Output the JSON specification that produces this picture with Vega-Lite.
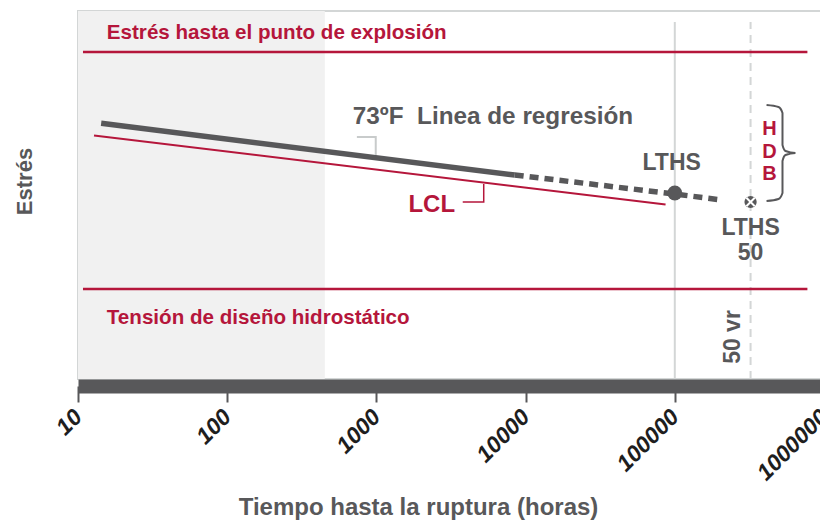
{
  "$schema": "https://vega.github.io/schema/vega-lite/v6.json",
  "width": 746,
  "height": 368,
  "autosize": {"type": "none"},
  "padding": {"left": 78, "top": 11, "right": 0, "bottom": 145},
  "background": "white",
  "config": {
    "view": {"stroke": "#d3d6d6", "strokeWidth": 2},
    "font": "Liberation Sans",
    "text": {"font": "Liberation Sans", "fontWeight": "bold"}
  },
  "encoding": {
    "x": {
      "field": "t",
      "type": "quantitative",
      "scale": {"type": "log", "domain": [10, 1000000], "nice": false},
      "axis": {
        "values": [10, 100, 1000, 10000, 100000, 1000000],
        "format": "d",
        "labelAngle": -45,
        "labelAlign": "right",
        "labelBaseline": "middle",
        "labelFont": "Liberation Sans",
        "labelFontWeight": "bold",
        "labelFontStyle": "italic",
        "labelFontSize": 23,
        "labelColor": "#1e1e1e",
        "labelPadding": 11,
        "labelFlush": false,
        "labelBound": false,
        "labelOverlap": false,
        "domainColor": "#58585a",
        "domainWidth": 14,
        "offset": 7,
        "tickColor": "#58585a",
        "tickWidth": 2,
        "tickSize": 16,
        "grid": false,
        "zindex": 1,
        "title": "Tiempo hasta la ruptura (horas)",
        "titleFont": "Liberation Sans",
        "titleFontSize": 24,
        "titleFontWeight": "bold",
        "titleColor": "#58585a",
        "titleX": 340,
        "titleY": 121,
        "titleBaseline": "middle",
        "titleAlign": "center"
      }
    },
    "y": {
      "field": "v",
      "type": "quantitative",
      "scale": {"domain": [0, 368], "nice": false, "zero": false},
      "axis": {
        "domain": false,
        "ticks": false,
        "labels": false,
        "grid": false,
        "title": "Estrés",
        "titleFont": "Liberation Sans",
        "titleFontSize": 22,
        "titleFontWeight": "bold",
        "titleColor": "#58585a",
        "titleAngle": 270,
        "titleX": -54,
        "titleY": 170,
        "titleBaseline": "middle",
        "titleAlign": "center"
      }
    }
  },
  "layer": [
    {
      "data": {"values": [{"t": 10, "t2": 451, "v": 0, "v2": 368}]},
      "mark": {"type": "rect", "color": "#f1f1f1"},
      "encoding": {"x2": {"field": "t2"}, "y2": {"field": "v2"}}
    },
    {
      "data": {"values": [{"t": 100000, "v": 0, "v2": 357}]},
      "mark": {"type": "rule", "color": "#d3d6d6", "strokeWidth": 2},
      "encoding": {"y2": {"field": "v2"}}
    },
    {
      "data": {"values": [{"t": 322000, "v": 0, "v2": 357}]},
      "mark": {"type": "rule", "color": "#d3d6d6", "strokeWidth": 2, "strokeDash": [8, 6]},
      "encoding": {"y2": {"field": "v2"}}
    },
    {
      "data": {"values": [{"t": 10.8, "t2": 774000, "v": 327}, {"t": 10.8, "t2": 774000, "v": 90}]},
      "mark": {"type": "rule", "color": "#b5163b", "strokeWidth": 2.5},
      "encoding": {"x2": {"field": "t2"}}
    },
    {
      "data": {"values": [{"t": 12.8, "v": 243.5}, {"t": 86700, "v": 174.5}]},
      "mark": {"type": "line", "color": "#b5163b", "strokeWidth": 2},
      "encoding": {}
    },
    {
      "data": {"values": [{"t": 14.3, "v": 255.7}, {"t": 8450, "v": 204}]},
      "mark": {"type": "line", "color": "#58585a", "strokeWidth": 5.5},
      "encoding": {}
    },
    {
      "data": {"values": [{"t": 8450, "v": 204}, {"t": 100000, "v": 185}, {"t": 205600, "v": 179}]},
      "mark": {"type": "line", "color": "#58585a", "strokeWidth": 5.5, "strokeDash": [9, 6]},
      "encoding": {}
    },
    {
      "data": {"values": [{"i": 1, "t": 740, "v": 242}, {"i": 2, "t": 990, "v": 242}, {"i": 3, "t": 990, "v": 224}]},
      "mark": {"type": "line", "color": "#c8cbcb", "strokeWidth": 2},
      "encoding": {"order": {"field": "i"}}
    },
    {
      "data": {"values": [{"i": 1, "t": 3790, "v": 177}, {"i": 2, "t": 5240, "v": 177}, {"i": 3, "t": 5240, "v": 195}]},
      "mark": {"type": "line", "color": "#b5163b", "strokeWidth": 1.5},
      "encoding": {"order": {"field": "i"}}
    },
    {
      "data": {"values": [
        {"i": 1, "t": 412000, "v": 274},
        {"i": 2, "t": 495500, "v": 272},
        {"i": 3, "t": 527000, "v": 266},
        {"i": 4, "t": 527000, "v": 234},
        {"i": 5, "t": 552000, "v": 228},
        {"i": 6, "t": 644000, "v": 226},
        {"i": 7, "t": 552000, "v": 224},
        {"i": 8, "t": 527000, "v": 218},
        {"i": 9, "t": 527000, "v": 186},
        {"i": 10, "t": 495500, "v": 180},
        {"i": 11, "t": 412000, "v": 178}
      ]},
      "mark": {"type": "line", "color": "#58585a", "strokeWidth": 2, "interpolate": "monotone"},
      "encoding": {"order": {"field": "i"}}
    },
    {
      "data": {"values": [{"t": 100000, "v": 186}]},
      "mark": {"type": "point", "shape": "circle", "filled": true, "color": "#58585a", "size": 220, "opacity": 1}
    },
    {
      "data": {"values": [{"t": 322000, "v": 177}]},
      "mark": {"type": "point", "shape": "circle", "filled": true, "color": "#58585a", "size": 150, "opacity": 1}
    },
    {
      "data": {"values": [{"t": 322000, "v": 177}]},
      "mark": {"type": "point", "shape": "M-1,-1L1,1M1,-1L-1,1", "filled": false, "stroke": "white", "strokeWidth": 2, "size": 70, "opacity": 1}
    },
    {
      "data": {"values": [
        {"t": 15.6, "v": 346, "label": "Estrés hasta el punto de explosión"},
        {"t": 15.6, "v": 61, "label": "Tensión de diseño hidrostático"}
      ]},
      "mark": {"type": "text", "align": "left", "baseline": "middle", "fontSize": 20.6, "color": "#b5163b"},
      "encoding": {"text": {"field": "label"}}
    },
    {
      "data": {"values": [{"t": 695, "v": 262, "label": "73ºF\u00a0 Linea de regresión"}]},
      "mark": {"type": "text", "align": "left", "baseline": "middle", "fontSize": 24.3, "color": "#58585a"},
      "encoding": {"text": {"field": "label"}}
    },
    {
      "data": {"values": [{"t": 2350, "v": 174, "label": "LCL"}]},
      "mark": {"type": "text", "align": "center", "baseline": "middle", "fontSize": 24, "color": "#b5163b"},
      "encoding": {"text": {"field": "label"}}
    },
    {
      "data": {"values": [
        {"t": 95300, "v": 216, "label": "LTHS"},
        {"t": 322000, "v": 151, "label": "LTHS"},
        {"t": 322000, "v": 126, "label": "50"}
      ]},
      "mark": {"type": "text", "align": "center", "baseline": "middle", "fontSize": 23, "color": "#58585a"},
      "encoding": {"text": {"field": "label"}}
    },
    {
      "data": {"values": [{"t": 243800, "v": 42, "label": "50 vr"}]},
      "mark": {"type": "text", "align": "center", "baseline": "middle", "fontSize": 23, "angle": 270, "color": "#58585a"},
      "encoding": {"text": {"field": "label"}}
    },
    {
      "data": {"values": [
        {"t": 431000, "v": 250, "label": "H"},
        {"t": 431000, "v": 227, "label": "D"},
        {"t": 431000, "v": 205, "label": "B"}
      ]},
      "mark": {"type": "text", "align": "center", "baseline": "middle", "fontSize": 20, "color": "#b5163b"},
      "encoding": {"text": {"field": "label"}}
    }
  ]
}
